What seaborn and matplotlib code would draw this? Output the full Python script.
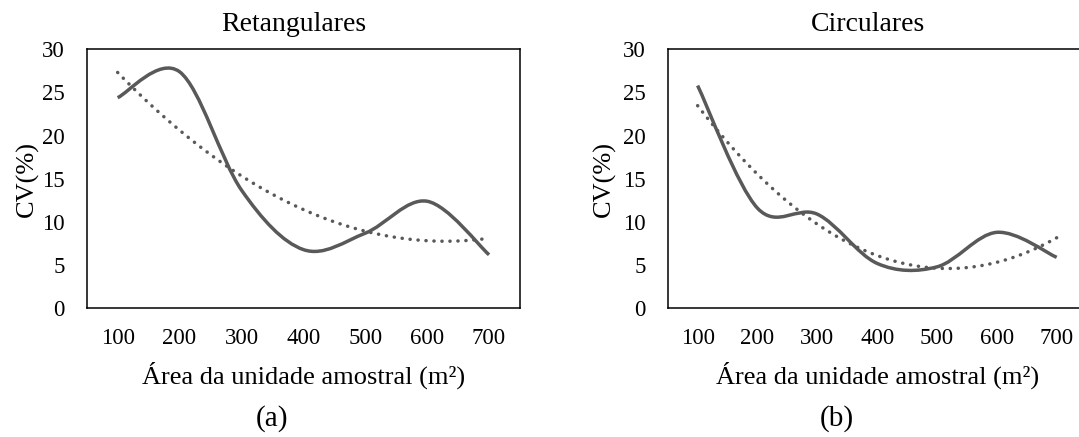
import numpy as np
import pandas as pd
import matplotlib
matplotlib.use("Agg")
import matplotlib.pyplot as plt
from matplotlib.path import Path
from matplotlib.patches import PathPatch
import seaborn as sns

# CV (%) per plot size
areas = ["100", "200", "300", "400", "500", "600", "700"]
cv_retangulares = [24.4, 27.4, 13.7, 6.8, 8.7, 12.4, 6.2]
cv_circulares = [25.8, 11.6, 10.9, 5.2, 4.8, 8.8, 5.9]
y_ticks = [0, 5, 10, 15, 20, 25, 30]

LINE_GRAY = "#595959"
W, H = 1079, 437


def smooth_path(xs, ys):
    # bezier segments, same idea as excel's "smoothed line"
    pts = np.column_stack([xs, ys]).astype(float)
    n = len(pts)
    verts = [pts[0]]
    codes = [Path.MOVETO]
    for i in range(n - 1):
        p0 = pts[max(i - 1, 0)]
        p1 = pts[i]
        p2 = pts[i + 1]
        p3 = pts[min(i + 2, n - 1)]
        verts += [p1 + (p2 - p0) / 6, p2 - (p3 - p1) / 6, p2]
        codes += [Path.CURVE4] * 3
    return Path(verts, codes)


def draw_panel(ax, values, title, title_x, ylab_x, tag, tag_x):
    pos = np.arange(len(areas))
    df = pd.DataFrame({"pos": pos, "cv": values})

    # polynomial (order 2) trendline, dotted
    sns.regplot(data=df, x="pos", y="cv", order=2, ci=None, scatter=False, ax=ax,
                line_kws=dict(color=LINE_GRAY, lw=2.5, linestyle=(0, (0.05, 2.25)),
                              dash_capstyle="round"))
    # smoothed data line
    ax.add_patch(PathPatch(smooth_path(pos, values), fill=False, edgecolor=LINE_GRAY,
                           lw=2.5, joinstyle="round", capstyle="butt", zorder=3))

    ax.set_xlim(-0.5, len(areas) - 0.5)
    ax.set_ylim(0, 30)
    ax.set_yticks(y_ticks)
    ax.set_yticklabels([str(t) for t in y_ticks])
    ax.tick_params(axis="y", direction="in", length=4.3, width=1, pad=16,
                   labelsize=16.5, color="black", labelcolor="black")

    # excel category axis: marks between categories, labels on them
    ax.set_xticks(np.arange(len(areas) + 1) - 0.5)
    ax.set_xticklabels([])
    ax.set_xticks(pos, minor=True)
    ax.set_xticklabels(areas, minor=True)
    ax.tick_params(axis="x", which="major", direction="out", length=4.8, width=1,
                   color="black")
    ax.tick_params(axis="x", which="minor", length=0, pad=14, labelsize=16.5,
                   labelcolor="black")

    for sp in ax.spines.values():
        sp.set_visible(True)
        sp.set_color("black")
        sp.set_linewidth(1.1)

    ax.set_xlabel("Área da unidade amostral (m²)", fontsize=19, color="black")
    ax.xaxis.label.set_verticalalignment("center")
    ax.xaxis.set_label_coords(0.5, -0.258)
    ax.set_ylabel("CV(%)", fontsize=19, color="black")
    ax.yaxis.label.set_verticalalignment("center")
    ax.yaxis.set_label_coords(ylab_x, 0.5)
    ax.set_title(title, fontsize=20, x=title_x, y=1.094, va="center", pad=0,
                 color="black")
    ax.text(tag_x, -0.424, tag, transform=ax.transAxes, ha="center", va="center",
            fontsize=21, color="black")


sns.set_theme(style="white")
plt.rcParams["font.family"] = ["Liberation Serif", "DejaVu Serif"]

fig = plt.figure(figsize=(W / 100, H / 100), dpi=100)
ax_a = fig.add_axes([86.7 / W, (H - 308.3) / H, 433.3 / W, 259 / H])
ax_b = fig.add_axes([667.7 / W, (H - 308.3) / H, 418.9 / W, 259 / H])

draw_panel(ax_a, cv_retangulares, "Retangulares", 0.478, -0.138, "(a)", 0.428)
draw_panel(ax_b, cv_circulares, "Circulares", 0.477, -0.152, "(b)", 0.404)

fig.savefig("out.png", dpi=100)
